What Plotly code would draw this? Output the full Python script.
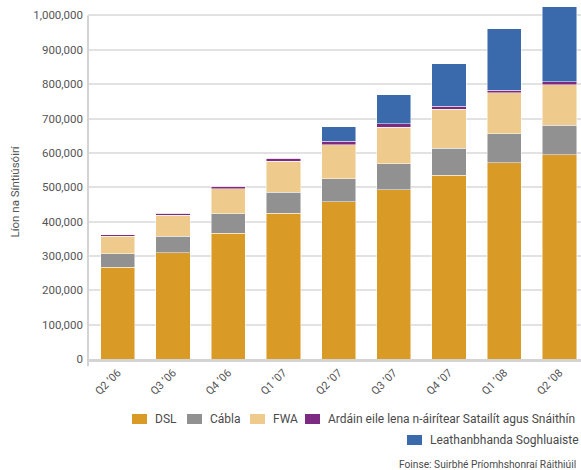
import plotly.graph_objects as go

quarters = ["Q2 ’06", "Q3 ’06", "Q4 ’06", "Q1 ’07", "Q2 ’07", "Q3 ’07", "Q4 ’07", "Q1 ’08", "Q2 ’08"]
series_names = ["DSL", "Cábla", "FWA", "Ardáin eile lena n-áirítear Satailít agus Snáithín", "Leathanbhanda Soghluaiste"]
dsl = [267000, 309000, 366000, 424000, 458000, 493000, 535000, 571000, 595000]
cabla = [39000, 49000, 57000, 62000, 66000, 75000, 78000, 84000, 86000]
fwa = [52000, 60000, 72000, 90000, 100000, 107000, 114000, 120000, 118000]
eile = [3000, 6000, 8000, 8000, 10000, 10000, 9000, 7000, 8000]
mobile = [0, 0, 0, 0, 42000, 84000, 124000, 179000, 219000]
colors = ["#DA9A26", "#919191", "#EECB8C", "#7D2A82", "#3A69AC"]

YMAX = 1045000
W, H = 581, 470
L, R, T, B = 88, 0, 0, 111
PW, PH = W - L - R, H - T - B

def px(x):
    return (x - L) / PW

def py(y):
    return (H - B - y) / PH

fig = go.Figure()
for name, vals, col in zip(series_names, [dsl, cabla, fwa, eile, mobile], colors):
    fig.add_trace(go.Bar(x=quarters, y=vals, name=name,
                         marker=dict(color=col, line=dict(color="rgba(255,255,255,0.6)", width=0.8)),
                         showlegend=False))

fig.update_layout(
    barmode="stack", bargap=0.38,
    width=W, height=H, margin=dict(l=L, r=R, t=T, b=B),
    plot_bgcolor="white", paper_bgcolor="white",
    font=dict(family="Roboto", size=11, color="#555555"),
    xaxis=dict(range=[-0.54, 8.39], tickangle=-45, showline=True, linecolor="#d4d4d4", linewidth=3,
               showgrid=False, ticks="", tickfont=dict(size=11, color="#555555")),
    yaxis=dict(range=[0, YMAX], tickvals=list(range(0, 1000001, 100000)), tickformat=",d",
               showgrid=True, gridcolor="#e2e2e2", gridwidth=1.5, zeroline=False, showline=False,
               ticks="", ticklabelstandoff=4, ticklabeloverflow="allow",
               tickfont=dict(size=11.5, color="#555555")),
)

shapes = [dict(type="line", xref="paper", yref="paper", x0=0, x1=0, y0=-0.02, y1=1000000 / YMAX,
               line=dict(color="#d4d4d4", width=2))]
annotations = [dict(text="Líon na Síntiúsóirí", xref="paper", yref="paper", x=px(14.5), y=py(192),
                    textangle=-90, showarrow=False, font=dict(size=11.5, color="#555555"),
                    xanchor="center", yanchor="middle")]

# legend built from series names
legend_pos = [(132, 419), (187, 419), (250, 419), (305, 419), (407, 440)]
for (sx, sy), name, col in zip(legend_pos, series_names, colors):
    shapes.append(dict(type="rect", xref="paper", yref="paper", x0=px(sx), x1=px(sx + 15),
                       y0=py(sy + 5), y1=py(sy - 5), fillcolor=col, line=dict(width=0)))
    annotations.append(dict(text=name, xref="paper", yref="paper", x=px(sx + 21), y=py(sy),
                            xanchor="left", yanchor="middle", showarrow=False,
                            font=dict(size=12, color="#4a4a4a")))

annotations.append(dict(text="Foinse: Suirbhé Príomhshonraí Ráithiúil", xref="paper", yref="paper",
                        x=px(578), y=py(464), xanchor="right", yanchor="middle", showarrow=False,
                        font=dict(size=10.2, color="#4a4a4a")))

fig.update_layout(shapes=shapes, annotations=annotations)
fig.write_html("out.html", config={"displayModeBar": False},
               post_script="document.body.style.margin='0px';document.body.style.overflow='hidden';")
